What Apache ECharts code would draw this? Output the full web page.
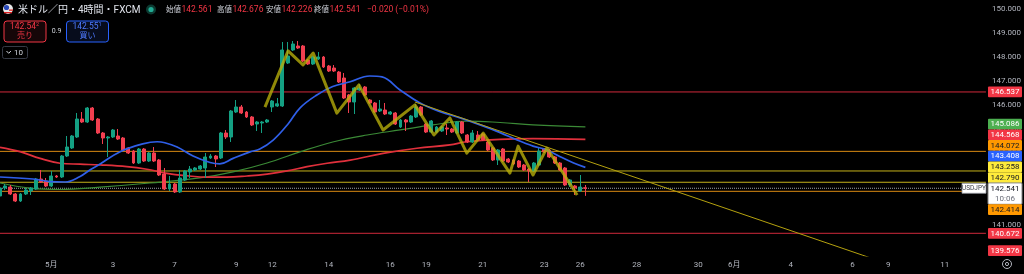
<!DOCTYPE html>
<html><head><meta charset="utf-8">
<script src="https://cdn.jsdelivr.net/npm/echarts@6/dist/echarts.min.js"></script>
<style>html,body{margin:0;padding:0;background:#000;}#c{width:1024px;height:274px;}</style>
</head><body><div id="c"></div>
<script>
// ---- DATA ----
// 4h candles [open, close, low, high]
const ohlc = [
[142.220,142.552,142.137,142.635],[142.552,142.635,142.469,142.718],[142.593,142.303,142.261,142.676],[142.303,142.012,141.971,142.345],
[142.012,142.303,141.971,142.345],[142.303,142.469,142.261,142.552],[142.427,142.552,142.261,142.593],[142.510,142.925,142.469,142.967],
[142.925,142.801,142.760,143.299],[142.842,142.635,142.593,142.967],[142.635,143.050,142.593,143.257],[143.050,143.008,142.967,143.091],
[143.008,143.880,142.967,143.921],[143.880,144.253,143.838,144.710],[144.212,144.710,144.170,144.751],[144.668,145.415,144.627,145.664],
[145.415,145.290,145.249,145.705],[145.290,145.871,145.249,145.913],[145.871,145.373,145.332,145.913],[145.415,144.834,144.792,145.456],
[144.834,144.627,144.378,144.875],[144.627,144.668,143.838,144.710],[144.668,144.958,144.627,145.000],[144.710,144.585,144.544,145.000],
[144.627,144.129,144.087,144.668],[144.212,144.004,143.963,144.253],[144.087,143.589,143.548,144.129],[143.589,144.170,143.548,144.212],
[144.170,143.672,143.631,144.212],[143.672,144.004,143.631,144.046],[144.004,143.672,143.631,144.253],[143.714,143.091,143.050,143.755],
[143.133,142.510,142.469,143.382],[142.510,142.718,142.427,143.050],[142.718,142.386,142.345,142.760],[142.386,142.967,142.345,143.299],
[142.884,143.257,142.842,143.299],[143.216,143.340,142.967,143.465],[143.299,143.382,143.257,143.423],[143.340,143.465,143.299,143.506],
[143.382,143.838,142.967,144.004],[143.797,143.880,143.755,143.963],[143.880,143.755,143.423,143.921],[143.797,144.834,143.755,144.875],
[144.834,144.668,144.585,144.958],[144.668,145.747,144.461,145.788],[145.705,145.913,145.664,146.203],[145.913,145.664,145.622,145.996],
[145.705,145.498,145.456,145.747],[145.498,145.166,145.124,145.539],[145.207,145.290,144.917,145.332],[145.249,145.290,144.834,145.332],
[145.290,145.373,145.249,145.415],[145.913,146.162,145.705,146.203],[145.954,146.046,145.913,146.286],[145.954,148.278,145.913,148.610],
[147.739,148.029,147.697,148.610],[148.278,148.527,148.236,148.651],[148.444,148.361,148.320,148.651],[148.444,147.822,147.780,148.485],
[147.863,147.697,147.656,147.905],[147.697,147.988,147.656,148.029],[147.905,147.988,147.863,148.195],[147.988,147.573,147.531,148.029],
[147.614,147.407,147.365,147.656],[147.531,147.407,147.365,147.656],[147.365,146.950,146.909,147.407],[147.116,146.286,146.245,147.324],
[146.411,146.120,145.664,146.453],[146.120,146.701,145.622,146.743],[146.618,146.701,146.577,146.867],[146.743,146.411,146.370,146.784],
[146.203,146.079,146.038,146.245],[146.079,145.705,145.664,146.120],[145.747,145.830,145.705,146.203],[145.788,145.622,145.581,146.079],
[145.622,145.705,145.581,145.747],[145.664,145.207,145.166,145.705],[145.083,145.373,145.041,145.415],[145.373,145.290,144.917,145.415],
[145.290,145.539,145.249,145.581],[145.498,145.913,145.456,146.038],[145.913,145.581,145.539,145.954],[145.207,144.875,144.834,145.249],
[144.875,145.332,144.834,145.373],[144.875,145.083,144.834,145.124],[144.917,145.083,144.875,145.124],[145.041,145.000,144.751,145.207],
[145.000,144.875,144.834,145.041],[144.834,145.290,144.792,145.332],[145.290,144.834,144.792,145.332],[144.751,144.461,144.420,144.792],
[144.461,144.834,144.420,144.958],[144.751,144.544,144.503,144.917],[144.792,144.544,144.503,144.834],[144.461,144.129,144.087,144.503],
[144.212,143.714,143.672,144.253],[143.714,144.129,143.506,144.170],[144.170,143.672,143.631,144.212],[143.755,143.631,143.589,143.797],
[143.714,143.548,143.506,143.755],[143.672,143.423,143.382,143.714],[143.506,143.299,143.257,143.548],[143.340,143.257,142.801,143.382],
[143.257,143.589,143.216,143.631],[143.506,144.087,143.465,144.212],[144.170,144.046,144.004,144.212],[144.129,143.838,143.797,144.170],
[143.838,143.589,143.548,143.880],[143.589,143.299,143.257,143.631],[143.382,142.676,142.635,143.423],[142.676,142.884,142.593,142.925],
[142.635,142.552,142.261,142.676],[142.427,142.593,142.386,143.091],[142.561,142.541,142.226,142.676]
];
const slotCount = 193; // bar slots on the time axis (incl. future)
const timeLabelIdx  = [10,22,34,46,53,64,76,83,94,106,113,124,136,143,154,166,173,184];
const timeLabelText = ['5月','3','7','9','12','14','16','19','21','23','26','28','30','6月','4','6','9','11'];
const priceTicks = [141,142,143,144,145,146,147,148,149,150];

// moving averages (bar position, price)
const maBlueX  = [0,6.4,9.7,12.7,15.6,17.5,19.5,23.4,27.8,30.6,32.1,34.5,37.6,40.9,42.8,45.4,48.7,50.6,53.2,56.1,58.4,61.7,64.8,68.2,72,74.4,77.9,81.8,85.7,89.6,93.5,97.4,100.7,103.8,106.5,109.1,111.6,114];
const maBlueP  = [143.008,142.925,142.82,142.80,143.03,143.30,143.55,144.06,144.38,144.47,144.43,144.25,143.88,143.61,143.55,143.78,144.05,144.17,144.54,145.21,145.87,146.41,146.76,146.96,147.20,147.16,146.62,146.08,145.72,145.46,145.17,144.85,144.54,144.29,144.13,143.85,143.60,143.408];
const maRedX   = [0,3.9,7.8,11.7,15.6,19.5,24.7,28.6,32.5,36.4,40.3,44.2,48.1,52,55.9,59.8,63.7,68.2,74.6,81.2,87.6,90.9,97.4,103.8,114];
const maRedP   = [144.24,144.06,143.78,143.58,143.54,143.51,143.44,143.33,143.16,143.06,143.00,143.00,143.05,143.13,143.26,143.44,143.58,143.71,143.99,144.20,144.34,144.47,144.57,144.60,144.568];
const maGreenX = [0,5.8,11.7,19.5,29.2,38.9,45.4,52,58.4,64.8,71.5,77.9,84.3,90.9,97.4,103.8,114];
const maGreenP = [142.76,142.55,142.49,142.59,142.76,142.97,143.22,143.59,144.05,144.46,144.75,144.96,145.17,145.33,145.27,145.17,145.086];

// zigzag drawing and trend line (bar position, price)
const zigX = [51.6,56.1,59.0,61.0,65.6,69.9,74.6,80.8,84.5,87.6,90.9,94.1,99.3,100.9,103.8,106.5,112.4];
const zigP = [145.91,148.24,147.66,148.15,145.66,146.83,144.96,146.00,144.75,145.46,144.00,144.83,143.17,144.29,143.09,144.21,142.26];
const trendX = [80.8,167.9,178];
const trendP = [146.12,139.77,139.03];

// horizontal levels
const levelPrices = [146.537,144.072,143.258,142.790,142.541,142.414,140.672];
const levelColors = ['#d0293b','#d98a12','#c4b11a','#c4b11a','#9a9da6','#d98a12','#d0293b'];
const levelTypes  = ['solid','solid','solid','solid','dotted','solid','solid'];

// price tags on axis
const tagPrices = [146.537,145.086,144.568,144.072,143.408,143.258,142.790,142.541,142.414,140.672,139.576];
const tagBg     = ['#f23645','#4caf50','#f23645','#ff9800','#2962ff','#ffeb3b','#ffeb3b','#ffffff','#ff9800','#f23645','#f23645'];
const tagFg     = ['#ffffff','#ffffff','#ffffff','#131722','#ffffff','#131722','#131722','#131722','#131722','#ffffff','#ffffff'];
const currentPrice = 142.541;
const countdown = '10:06';

// ---- CHART ----
const UP = '#14a083', DOWN = '#f23f50';
const FONT = 'Roboto, "Noto Sans CJK JP", sans-serif';
const cats = [];
for (let i = 0; i < slotCount; i++) cats.push(String(i));
const pair = (xs, ps) => xs.map((x, i) => [x, ps[i]]);
const yMin = 139.7303, yMax = 150.3527;

const levelSeries = levelPrices.map((p, i) => ({
  type: 'line', xAxisIndex: 1, data: [[0, p], [slotCount - 1, p]], showSymbol: false, silent: true, z: 1,
  lineStyle: {color: levelColors[i], width: 1, type: levelTypes[i], opacity: 1}
}));

const chart = echarts.init(document.getElementById('c'));
chart.setOption({
  backgroundColor: '#000',
  animation: false,
  grid: {left: 0, right: 37, top: 0, bottom: 18},
  xAxis: [
    {type: 'category', data: cats, boundaryGap: false,
     axisLine: {show: false}, axisTick: {show: false}, splitLine: {show: false},
     axisLabel: {
       interval: (i) => timeLabelIdx.indexOf(i) >= 0,
       formatter: (v, i) => { const k = timeLabelIdx.indexOf(i); return k >= 0 ? timeLabelText[k] : ''; },
       color: '#b2b5be', fontSize: 8, margin: 5, fontFamily: FONT
     }},
    {type: 'value', min: 0, max: slotCount - 1, show: false}
  ],
  yAxis: {type: 'value', position: 'right', min: yMin, max: yMax, scale: true,
    axisLine: {show: false}, axisTick: {show: false}, splitLine: {show: false},
    axisLabel: {customValues: priceTicks, formatter: (v) => v.toFixed(3), color: '#b2b5be', fontSize: 8, margin: 6, fontFamily: FONT}
  },
  series: levelSeries.concat([
    {type: 'line', xAxisIndex: 1, data: pair(maGreenX, maGreenP), smooth: 0.4, showSymbol: false, lineStyle: {color: '#3b8a36', width: 1.2}, z: 2},
    {type: 'line', xAxisIndex: 1, data: pair(maRedX, maRedP), smooth: 0.4, showSymbol: false, lineStyle: {color: '#e0303c', width: 1.7}, z: 2},
    {type: 'candlestick', xAxisIndex: 0, data: ohlc, barWidth: 3.4, z: 3,
     itemStyle: {color: UP, color0: DOWN, borderColor: UP, borderColor0: DOWN, borderWidth: 1}},
    {type: 'line', xAxisIndex: 1, data: pair(maBlueX, maBlueP), smooth: 0.4, showSymbol: false, lineStyle: {color: '#2f5fe8', width: 1.7}, z: 4},
    {type: 'line', xAxisIndex: 1, data: pair(zigX, zigP), showSymbol: false, lineStyle: {color: 'rgba(185,175,10,0.78)', width: 3, join: 'round'}, z: 5},
    {type: 'line', xAxisIndex: 1, data: pair(trendX, trendP), showSymbol: false, lineStyle: {color: '#b5a20f', width: 1}, z: 5, clip: true}
  ])
});

// ---- overlay: header + price tags ----
const g = [];
function txt(x, y, t, fill, size, align, weight) {
  g.push({type: 'text', z: 100, style: {x: x, y: y, text: t, fill: fill, font: (weight || 'normal') + ' ' + size + 'px ' + FONT, align: align || 'left', verticalAlign: 'middle'}});
}
// header
g.push({type: 'circle', z: 100, shape: {cx: 8, cy: 9, r: 5}, style: {fill: '#e8e8e8'}});
g.push({type: 'circle', z: 101, shape: {cx: 6.5, cy: 7.5, r: 2.6}, style: {fill: '#2a49b8'}});
g.push({type: 'rect', z: 101, shape: {x: 9, y: 9.5, width: 4, height: 1.3}, style: {fill: '#d22'}});
g.push({type: 'rect', z: 101, shape: {x: 4, y: 12, width: 8, height: 1.3}, style: {fill: '#d22'}});
txt(18, 10, '米ドル／円・4時間・FXCM', '#e0e3eb', 10);
g.push({type: 'circle', z: 100, shape: {cx: 151, cy: 9.5, r: 5}, style: {fill: '#0c3a31'}});
g.push({type: 'circle', z: 101, shape: {cx: 151, cy: 9.5, r: 2.6}, style: {fill: '#22ab94'}});
const ohlcLab = ['始値', '高値', '安値', '終値'];
const ohlcVal = ['142.561', '142.676', '142.226', '142.541'];
const labX = [166, 217, 266, 314];
for (let i = 0; i < 4; i++) { txt(labX[i], 10, ohlcLab[i], '#d1d4dc', 7.5); txt(labX[i] + 15.5, 10, ohlcVal[i], '#f23645', 8.5); }
txt(367, 10, '−0.020 (−0.01%)', '#f23645', 8.5);
// sell / buy boxes
g.push({type: 'rect', z: 100, shape: {x: 4, y: 21, width: 42, height: 21, r: 3}, style: {fill: '#160608', stroke: '#f23645', lineWidth: 1}});
txt(23, 27, '142.54', '#f23645', 8.5, 'center'); txt(37.5, 25, '2', '#f23645', 5.5, 'center');
txt(25, 36, '売り', '#f23645', 8, 'center');
txt(56.5, 31.5, '0.9', '#d1d4dc', 7, 'center');
g.push({type: 'rect', z: 100, shape: {x: 66.5, y: 21, width: 42, height: 21, r: 3}, style: {fill: '#070c1c', stroke: '#2962ff', lineWidth: 1}});
txt(85.5, 27, '142.55', '#4f7bff', 8.5, 'center'); txt(100, 25, '1', '#4f7bff', 5.5, 'center');
txt(87.5, 36, '買い', '#4f7bff', 8, 'center');
g.push({type: 'rect', z: 100, shape: {x: 2.5, y: 46.5, width: 25, height: 12, r: 2}, style: {fill: '#000', stroke: '#363a45', lineWidth: 1}});
g.push({type: 'polyline', z: 101, shape: {points: [[6.5, 51], [8.7, 53.3], [10.9, 51]]}, style: {stroke: '#d1d4dc', lineWidth: 1, fill: null}});
txt(14, 52.5, '10', '#d1d4dc', 8);
// gear
g.push({type: 'circle', z: 100, shape: {cx: 1007, cy: 264, r: 4.5}, style: {fill: null, stroke: '#b2b5be', lineWidth: 1}});
g.push({type: 'circle', z: 100, shape: {cx: 1007, cy: 264, r: 1.6}, style: {fill: null, stroke: '#b2b5be', lineWidth: 1}});

// tags with collision resolution around the current-price tag
const H = 10.7, HC = 21.4, TX = 988, TW = 34;
const gridBottom = 256;
const tags = tagPrices.map((p, i) => ({p: p, i: i, y: chart.convertToPixel({yAxisIndex: 0}, p)}));
const cur = tags.find(t => t.p === currentPrice);
cur.top = cur.y - H / 2; cur.h = HC;
const above = tags.filter(t => t.p > currentPrice).sort((a, b) => b.y - a.y);
let limit = cur.top;
above.forEach(t => { const c = Math.min(t.y, limit - H / 2); t.top = c - H / 2; t.h = H; limit = t.top; });
const below = tags.filter(t => t.p < currentPrice).sort((a, b) => a.y - b.y);
limit = cur.top + HC;
below.forEach(t => { let c = Math.max(t.y, limit + H / 2); c = Math.min(c, gridBottom - H / 2); t.top = c - H / 2; t.h = H; limit = t.top + H; });
tags.forEach(t => {
  g.push({type: 'rect', z: 110, shape: {x: TX, y: t.top, width: TW, height: t.h, r: 1}, style: {fill: tagBg[t.i], stroke: t === cur ? '#888' : null}});
  g.push({type: 'text', z: 111, style: {x: TX + TW / 2, y: t.top + H / 2 + 0.3, text: t.p.toFixed(3), fill: tagFg[t.i], font: '8px ' + FONT, align: 'center', verticalAlign: 'middle'}});
});
g.push({type: 'text', z: 111, style: {x: TX + TW / 2, y: cur.top + H * 1.5 + 0.3, text: countdown, fill: '#6a6d78', font: '8px ' + FONT, align: 'center', verticalAlign: 'middle'}});
// symbol box at the current price line
const cy = chart.convertToPixel({yAxisIndex: 0}, currentPrice);
g.push({type: 'rect', z: 110, shape: {x: 962, y: cy - 5, width: 24, height: 10}, style: {fill: '#ffffff', stroke: '#9598a1', lineWidth: 0.8}});
g.push({type: 'text', z: 111, style: {x: 974, y: cy + 0.3, text: 'USDJPY', fill: '#3a3d46', font: '6.5px ' + FONT, align: 'center', verticalAlign: 'middle'}});

chart.setOption({graphic: {elements: g}});
</script>
</body></html>
